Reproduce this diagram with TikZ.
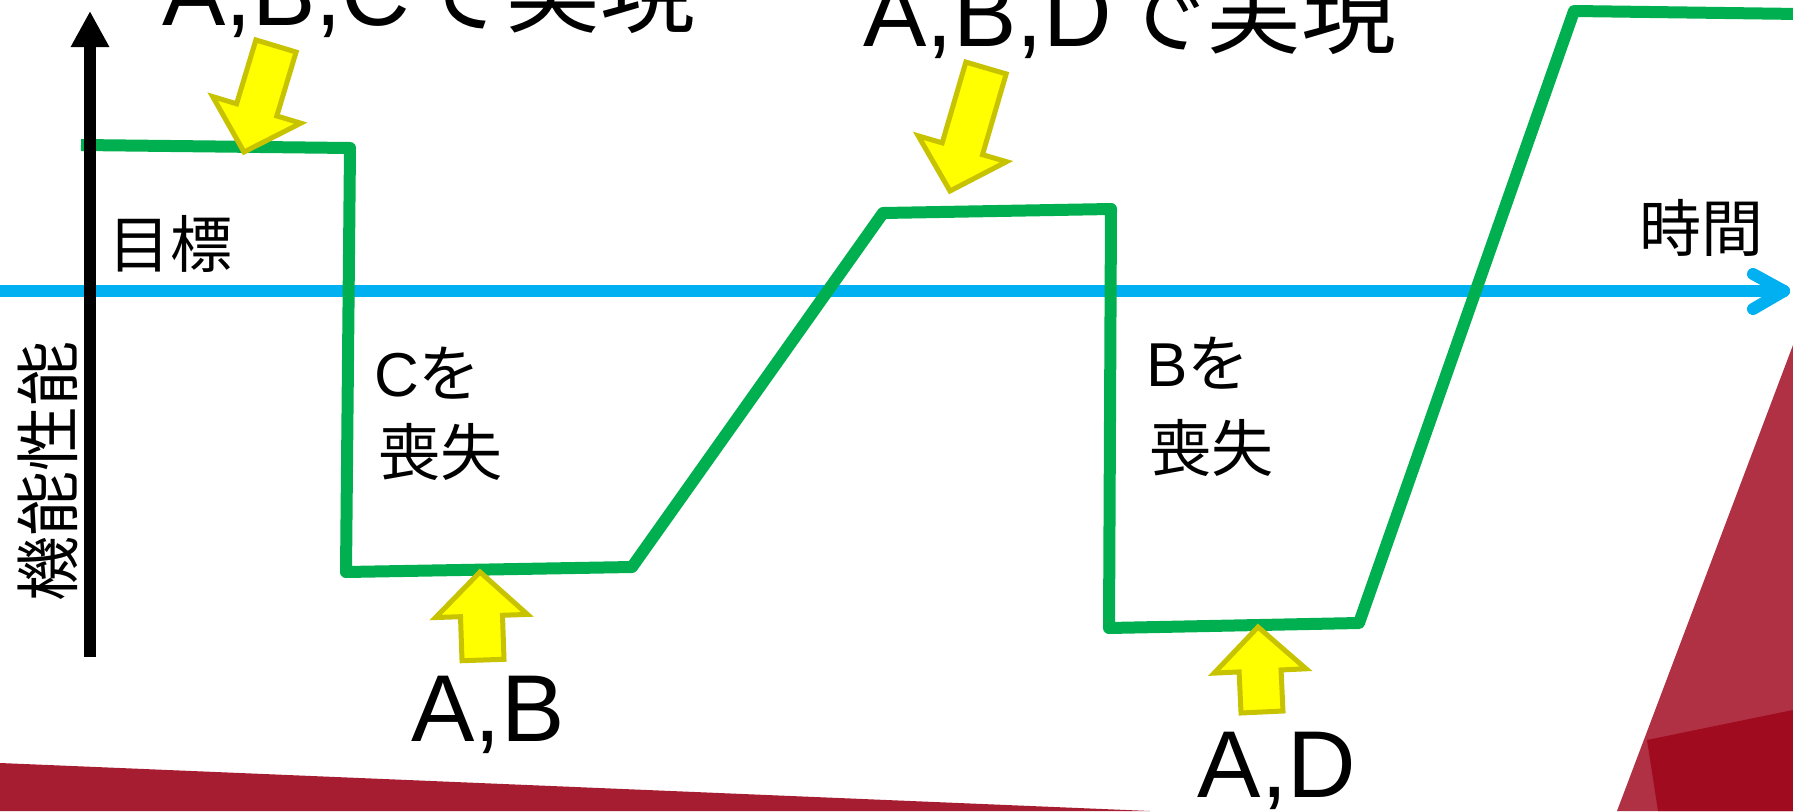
\documentclass[tikz,border=0pt]{standalone}
\usepackage{fontspec}
\setmainfont{Liberation Sans}
\newfontfamily\jp{Noto Sans CJK JP}
\usetikzlibrary{calc,arrows.meta}
\definecolor{grn}{HTML}{00B050}
\definecolor{sky}{HTML}{00B0F0}
\definecolor{yel}{HTML}{FFFF00}
\definecolor{yeledge}{HTML}{C8C300}
\definecolor{redA}{HTML}{A61C30}
\definecolor{redB}{HTML}{B03044}
\definecolor{redC}{HTML}{A00B1F}
\tikzset{
  yarrow/.style={fill=yel, draw=yeledge, line width=5pt, line join=miter},
  gline/.style={draw=grn, line width=12pt, line join=round},
  bline/.style={draw=sky, line width=12pt, line cap=round, line join=round},
  kaxis/.style={draw=black, line width=12pt, -{Triangle[width=36pt,length=36pt]}},
  lbl/.style={inner sep=0pt, text=black},
  big/.style={lbl, font=\fontsize{95}{95}\selectfont},
  mid/.style={lbl, font=\fontsize{62}{62}\selectfont},
  sml/.style={lbl, font=\fontsize{62}{62}\selectfont},
  vlab/.style={lbl, font=\fontsize{65}{65}\selectfont}
}
\newcommand\yblock[2]{%
  \coordinate (#1-j) at ($(#2)!44pt!(#1)$);
  \draw[yarrow] ($(#1)!21pt!90:(#2)$) -- ($(#1-j)!21pt!90:(#2)$) -- ($(#1-j)!46pt!90:(#2)$) -- (#2)
    -- ($(#1-j)!46pt!-90:(#2)$) -- ($(#1-j)!21pt!-90:(#2)$) -- ($(#1)!21pt!-90:(#2)$) -- cycle;
}
\begin{document}
\begin{tikzpicture}[x=1pt,y=-1pt]
\useasboundingbox (0,0) rectangle (1793,811);
\fill[white] (0,0) rectangle (1793,811);
% red background shapes
\fill[redA] (0,763) -- (1150,811) -- (0,811) -- cycle;
\fill[redB] (1793,345) -- (1617,811) -- (1793,811) -- cycle;
\fill[redC] (1647,740) -- (1793,710) -- (1793,811) -- (1658,811) -- cycle;
% time axis
\coordinate (axL) at (0,291);
\coordinate (axR) at (1784,291);
\coordinate (arm1) at (1753,274);
\coordinate (arm2) at (1753,309);
\draw[bline] (axL) -- (axR);
\draw[bline] (arm1) -- (axR) -- (arm2);
% green performance line
\coordinate (g1) at (81,145);
\coordinate (g2) at (350,148);
\coordinate (g3) at (346,572);
\coordinate (g4) at (632,567);
\coordinate (g5) at (883,213);
\coordinate (g6) at (1111,209);
\coordinate (g7) at (1109,628);
\coordinate (g8) at (1359,623);
\coordinate (g9) at (1574,11);
\coordinate (g10) at (1800,14);
\draw[gline] (g1) -- (g2) -- (g3) -- (g4) -- (g5) -- (g6) -- (g7) -- (g8) -- (g9) -- (g10);
% vertical axis
\coordinate (vB) at (90,657);
\coordinate (vT) at (90,11);
\draw[kaxis] (vB) -- (vT);
% yellow block arrows
\coordinate (ya) at (276,46);  \coordinate (yaT) at (244,152);
\coordinate (yb) at (986,68);  \coordinate (ybT) at (950,191);
\coordinate (yc) at (483,660); \coordinate (ycT) at (480,572);
\coordinate (yd) at (1262,712); \coordinate (ydT) at (1258,627);
\yblock{ya}{yaT}
\yblock{yb}{ybT}
\yblock{yc}{ycT}
\yblock{yd}{ydT}
% labels
\node[big, anchor=base] (t1) at (429,25) {A,B,C{\jp で実現}};
\node[big, anchor=base] (t2) at (1130,46) {A,B,D{\jp で実現}};
\node[big, anchor=base] (b1) at (488,741) {A,B};
\node[big, anchor=base] (b2) at (1277,797) {A,D};
\node[sml] (goal) at (170,244) {\jp 目標};
\node[sml] (time) at (1701,228) {\jp 時間};
\node[vlab, rotate=90] (yax) at (48,471) {\jp 機能性能};
\node[mid, anchor=base west] (lc1) at (374,396) {C{\jp を}};
\node[mid, anchor=base west] (lc2) at (378,475) {\jp 喪失};
\node[mid, anchor=base west] (lb1) at (1146,386) {B{\jp を}};
\node[mid, anchor=base west] (lb2) at (1149,471) {\jp 喪失};
\end{tikzpicture}
\end{document}
